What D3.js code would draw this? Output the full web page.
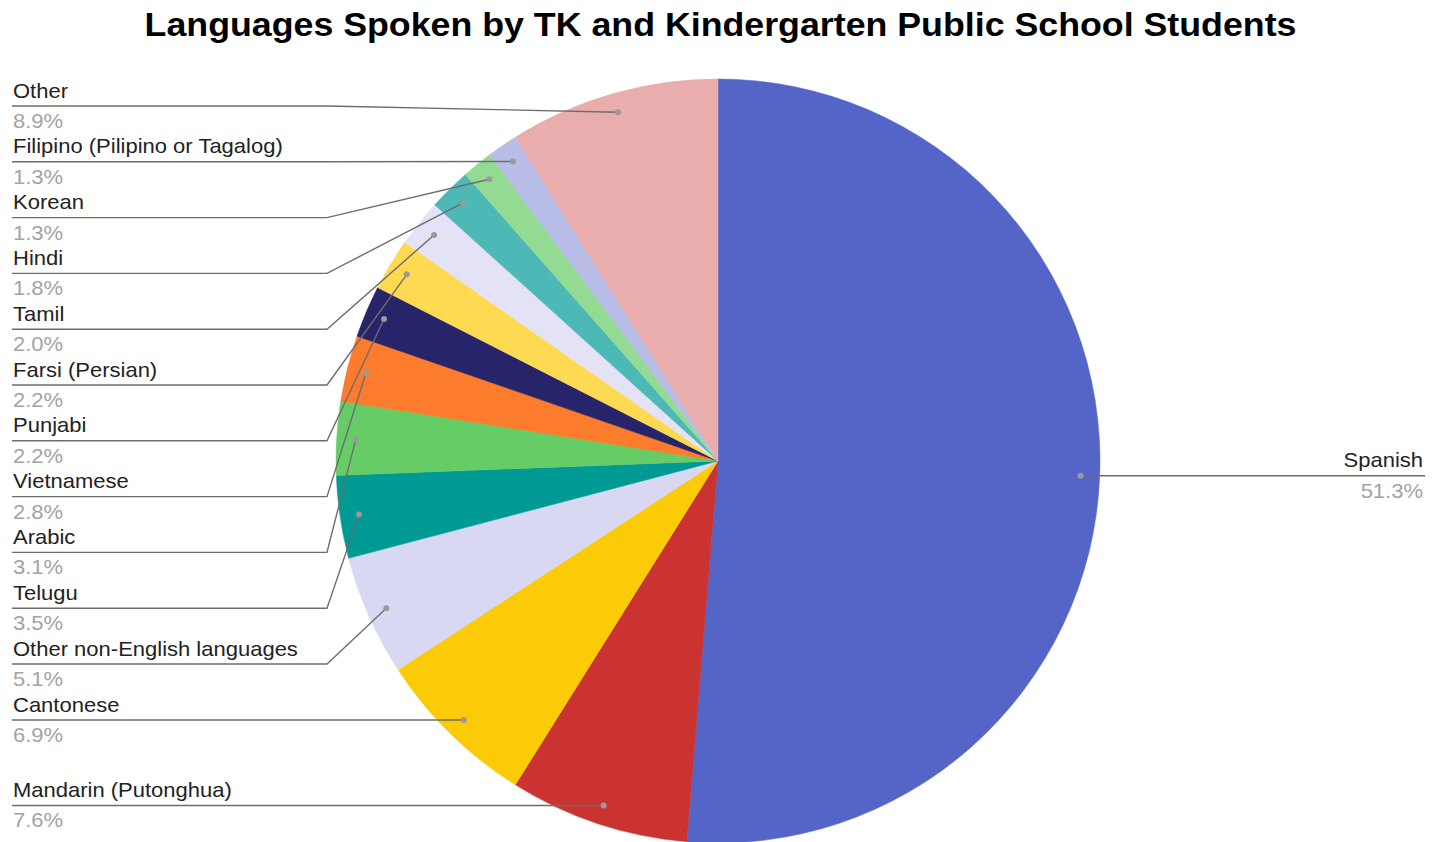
<!DOCTYPE html>
<html>
<head>
<meta charset="utf-8">
<script src="https://cdn.jsdelivr.net/npm/d3@7"></script>
<style>
  html, body { margin: 0; padding: 0; background: #fff; }
  svg { display: block; }
  text { font-family: "Liberation Sans", Arial, Helvetica, sans-serif; }
</style>
</head>
<body>
<svg id="chart" width="1432" height="842"></svg>
<script>
// Language shares (percent of TK and kindergarten students), clockwise from 12 o'clock
const languages = [
  "Spanish", "Mandarin (Putonghua)", "Cantonese", "Other non-English languages",
  "Telugu", "Arabic", "Vietnamese", "Punjabi", "Farsi (Persian)", "Tamil",
  "Hindi", "Korean", "Filipino (Pilipino or Tagalog)", "Other"
];
const shares = [51.3, 7.6, 6.9, 5.1, 3.5, 3.1, 2.8, 2.2, 2.2, 2.0, 1.8, 1.3, 1.3, 8.9];
const sliceColors = [
  "#5465c7", "#cb3332", "#fccb07", "#d8d8f2", "#009a95", "#66cc66", "#fd7b2c",
  "#27246a", "#fed952", "#e3e2f6", "#4db9b7", "#93da93", "#b8bde7", "#e9adad"
];
const chartTitle = "Languages Spoken by TK and Kindergarten Public School Students";

const W = 1432, H = 842;
const cx = 718, cy = 461, R = 382;
const labelGap = 55.8;       // vertical space taken by one label block
const topLine = 106;         // highest allowed leader underline
const bottomLine = 830;      // lowest allowed leader underline
const leftX = 12, leftBend = 327;
const rightX = 1425, rightBend = 1110;
const stretch = 1.1;         // wide text rendering

const data = languages.map((name, i) => ({ name, value: shares[i], color: sliceColors[i] }));

const svg = d3.select("#chart");

function addText(parent, x, y, str) {
  return parent.append("text")
    .attr("transform", `translate(${x},${y}) scale(${stretch},1)`)
    .text(str);
}

addText(svg, 720.5, 36, chartTitle)
  .attr("text-anchor", "middle")
  .attr("font-size", 32.5)
  .attr("font-weight", "bold")
  .attr("fill", "#000");

const pie = d3.pie().sort(null).value(d => d.value);
const arcs = pie(data);

const arc = d3.arc().innerRadius(0).outerRadius(R);
const anchorArc = d3.arc().innerRadius(R * 0.95).outerRadius(R * 0.95);

const g = svg.append("g").attr("transform", `translate(${cx},${cy})`);
g.selectAll("path.slice")
  .data(arcs)
  .join("path")
  .attr("class", "slice")
  .attr("d", arc)
  .attr("fill", d => d.data.color)
  .attr("stroke", d => d.data.color)
  .attr("stroke-width", 0.5);

// Anchor point of each leader line, on the slice's mid-angle
arcs.forEach(a => {
  const [x, y] = anchorArc.centroid(a);
  a.ax = cx + x;
  a.ay = cy + y;
  a.side = (a.startAngle + a.endAngle) / 2 < Math.PI ? "right" : "left";
});

// Stack labels on each side: push up from the bottom, then down from the top
function layoutSide(items) {
  items.sort((a, b) => a.ay - b.ay);
  items.forEach(a => a.ly = a.ay);
  for (let i = items.length - 1; i >= 0; i--) {
    const lim = i === items.length - 1 ? bottomLine : items[i + 1].ly - labelGap;
    items[i].ly = Math.min(items[i].ly, lim);
  }
  for (let i = 0; i < items.length; i++) {
    const lim = i === 0 ? topLine : items[i - 1].ly + labelGap;
    items[i].ly = Math.max(items[i].ly, lim);
  }
}
layoutSide(arcs.filter(a => a.side === "left"));
layoutSide(arcs.filter(a => a.side === "right"));

const fmt = d => d3.format(".1f")(d) + "%";
const labels = svg.append("g");

arcs.forEach(a => {
  const left = a.side === "left";
  const edgeX = left ? leftX : rightX;
  const bendX = left ? leftBend : rightBend;
  const pts = [[edgeX, a.ly], [bendX, a.ly], [a.ax, a.ay]];
  labels.append("path")
    .attr("d", d3.line()(pts))
    .attr("fill", "none")
    .attr("stroke", "#6d6d6d")
    .attr("stroke-width", 1.4);
  labels.append("circle")
    .attr("cx", a.ax).attr("cy", a.ay).attr("r", 3)
    .attr("fill", "#9a9a9a");
  const anchor = left ? "start" : "end";
  const tx = left ? edgeX + 1 : edgeX - 2;
  addText(labels, tx, a.ly - 8.5, a.data.name)
    .attr("text-anchor", anchor)
    .attr("font-size", 20)
    .attr("fill", "#222");
  addText(labels, tx, a.ly + 22, fmt(a.data.value))
    .attr("text-anchor", anchor)
    .attr("font-size", 20)
    .attr("fill", "#a3a3a3");
});
</script>
</body>
</html>
